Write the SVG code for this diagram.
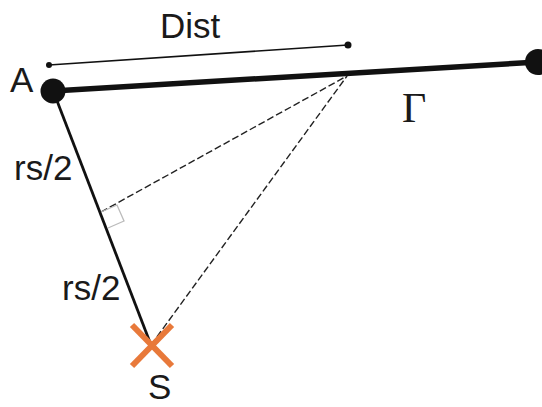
<svg xmlns="http://www.w3.org/2000/svg" width="542" height="407" viewBox="0 0 542 407">
<style>
.lbl{font-family:"Liberation Sans",Arial,sans-serif;font-size:35px;fill:#1a1a1a}
.gam{font-family:"Liberation Serif","Times New Roman",serif;font-size:42px;fill:#1a1a1a}
.dash{stroke:#222;stroke-width:1.4;stroke-dasharray:7 3;fill:none}
</style>
<rect width="542" height="407" fill="#fff"/>
<g id="connectors">
<line x1="49" y1="65" x2="348" y2="45" stroke="#111" stroke-width="1.6"/>
<line x1="53" y1="91" x2="538" y2="62" stroke="#111" stroke-width="5.5"/>
<line x1="54" y1="93" x2="151" y2="345" stroke="#111" stroke-width="2.8"/>
<line class="dash" x1="101" y1="212" x2="347" y2="76"/>
<line class="dash" x1="151" y1="345" x2="347" y2="76"/>
<polyline points="101,212 117,205 124,221 108,228" fill="none" stroke="#bbb" stroke-width="1.3"/>
</g>
<g id="dist-ends">
<circle cx="49" cy="65" r="3" fill="#111"/>
<circle cx="348" cy="45" r="3.5" fill="#111"/>
</g>
<g id="A">
<circle cx="53" cy="91" r="12.5" fill="#111"/>
<text class="lbl" x="10" y="92">A</text>
</g>
<g id="B">
<circle cx="538" cy="62" r="13" fill="#111"/>
</g>
<g id="S">
<line x1="132" y1="325" x2="172" y2="366" stroke="#E8793A" stroke-width="6"/>
<line x1="172" y1="325" x2="132" y2="366" stroke="#E8793A" stroke-width="6"/>
<text class="lbl" x="148" y="399">S</text>
</g>
<g id="labels">
<text class="lbl" x="160" y="38">Dist</text>
<text class="gam" x="402" y="122">Γ</text>
<text class="lbl" x="14" y="180">rs/2</text>
<text class="lbl" x="62" y="300">rs/2</text>
</g>
</svg>
